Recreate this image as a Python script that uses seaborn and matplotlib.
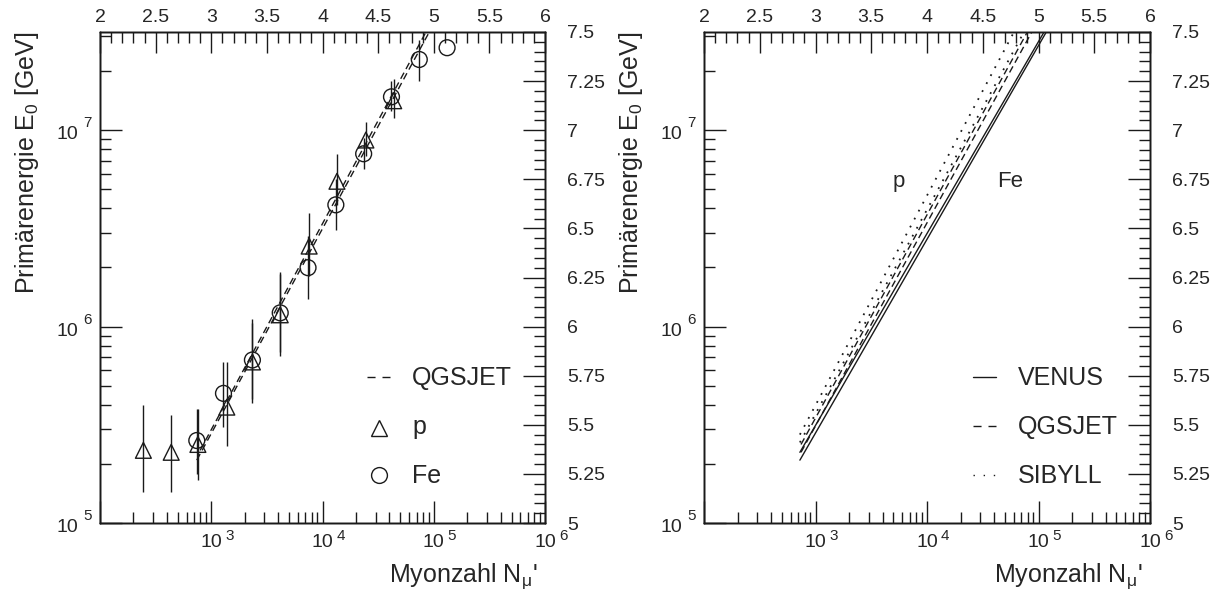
import numpy as np
import matplotlib
matplotlib.use("Agg")
import matplotlib.pyplot as plt
import matplotlib.ticker as mticker
import seaborn as sns

# ---------------- data (log10 values) ----------------
# left panel: reconstructed energy vs muon number, proton (triangles)
p_logN = [2.39, 2.64, 2.88, 3.14, 3.37, 3.62, 3.88, 4.13, 4.39, 4.64]
p_logE = [5.37, 5.36, 5.40, 5.59, 5.82, 6.06, 6.41, 6.74, 6.95, 7.15]
p_lo = [5.16, 5.16, 5.22, 5.39, 5.61, 5.85, 6.26, 6.62, 6.87, 7.06]
p_hi = [5.60, 5.55, 5.58, 5.82, 6.04, 6.28, 6.58, 6.88, 7.04, 7.26]
# iron (circles)
fe_logN = [2.87, 3.11, 3.37, 3.62, 3.87, 4.12, 4.37, 4.62, 4.87, 5.12]
fe_logE = [5.42, 5.66, 5.83, 6.07, 6.30, 6.62, 6.88, 7.17, 7.36, 7.42]
fe_lo = [5.25, 5.49, 5.63, 5.87, 6.14, 6.49, 6.80, 7.10, 7.25, 7.42]
fe_hi = [5.58, 5.82, 6.02, 6.27, 6.46, 6.75, 6.96, 7.25, 7.46, 7.42]
# left panel QGSJET fits (p, Fe)
qgsL_p_logN, qgsL_p_logE = [2.87, 4.96], [5.32, 7.50]
qgsL_fe_logN, qgsL_fe_logE = [2.90, 4.93], [5.37, 7.50]

# right panel: model relations (p and Fe for each)
venus_p_logN, venus_p_logE = [2.86, 5.05], [5.36, 7.50]
venus_fe_logN, venus_fe_logE = [2.86, 5.07], [5.32, 7.50]
qgs_p_logN, qgs_p_logE = [2.87, 4.90], [5.40, 7.50]
qgs_fe_logN, qgs_fe_logE = [2.87, 4.94], [5.36, 7.50]
sib_p_logN, sib_p_logE = [2.86, 4.78], [5.45, 7.50]
sib_fe_logN, sib_fe_logE = [2.86, 4.87], [5.41, 7.50]

left_legend = ["QGSJET", "p", "Fe"]
right_legend = ["VENUS", "QGSJET", "SIBYLL"]
decades_x = [3, 4, 5, 6]
decades_y = [5, 6, 7]
top_ticks = [2, 2.5, 3, 3.5, 4, 4.5, 5, 5.5, 6]
right_ticks = [5, 5.25, 5.5, 5.75, 6, 6.25, 6.5, 6.75, 7, 7.25, 7.5]

# ---------------- style ----------------
sns.set_theme(style="ticks")
plt.rcParams["font.family"] = ["Liberation Sans", "DejaVu Sans"]
plt.rcParams["mathtext.fontset"] = "custom"
plt.rcParams["mathtext.rm"] = "Liberation Sans"
plt.rcParams["mathtext.it"] = "Liberation Sans:italic"
plt.rcParams["mathtext.bf"] = "Liberation Sans:bold"
plt.rcParams["axes.grid"] = False

W, H = 1218, 598
fig = plt.figure(figsize=(W / 100, H / 100), dpi=100)
axL = fig.add_axes([100 / W, 75 / H, 445 / W, 491 / H])
axR = fig.add_axes([704 / W, 75 / H, 446 / W, 491 / H])

DASH = (0, (5, 3))
LDASH = (0, (5.8, 5))
DOT = (0, (1, 4))
LDOT = (0, (1, 6.3))


def p10(v):
    return np.power(10.0, np.asarray(v, dtype=float))


def style_axes(ax):
    ax.set_xscale("log")
    ax.set_yscale("log")
    ax.set_xlim(1e2, 1e6)
    ax.set_ylim(1e5, 10 ** 7.5)
    for axis in (ax.xaxis, ax.yaxis):
        axis.set_major_locator(mticker.LogLocator(base=10, numticks=10))
        axis.set_minor_locator(mticker.LogLocator(base=10, subs=np.arange(2, 10), numticks=20))
        axis.set_minor_formatter(mticker.NullFormatter())
        axis.set_major_formatter(mticker.NullFormatter())
    ax.tick_params(which="both", direction="in", top=False, right=False,
                   width=1, color="k", labelcolor="k")
    ax.tick_params(which="major", length=16)
    ax.tick_params(which="minor", length=8)
    for sp in ax.spines.values():
        sp.set_linewidth(1)
        sp.set_color("k")

    # decade labels "10" with raised exponent
    for e in decades_x:
        ax.annotate("10", xy=(10.0 ** e, 0), xycoords=("data", "axes fraction"),
                    xytext=(0, -24), textcoords="offset pixels", ha="center",
                    va="baseline", fontsize=14, annotation_clip=False)
        ax.annotate(str(e), xy=(10.0 ** e, 0), xycoords=("data", "axes fraction"),
                    xytext=(14, -17), textcoords="offset pixels", ha="left",
                    va="baseline", fontsize=11, annotation_clip=False)
    for e in decades_y:
        ax.annotate("10", xy=(0, 10.0 ** e), xycoords=("axes fraction", "data"),
                    xytext=(-22, -9), textcoords="offset pixels", ha="right",
                    va="baseline", fontsize=14, annotation_clip=False)
        ax.annotate(str(e), xy=(0, 10.0 ** e), xycoords=("axes fraction", "data"),
                    xytext=(-17, 3), textcoords="offset pixels", ha="left",
                    va="baseline", fontsize=11, annotation_clip=False)

    axT = ax.twiny()
    axT.set_xlim(2, 6)
    axT.xaxis.set_major_locator(mticker.FixedLocator(top_ticks))
    axT.xaxis.set_minor_locator(mticker.MultipleLocator(0.1))
    axT.xaxis.set_major_formatter(mticker.FormatStrFormatter("%g"))
    axT.tick_params(which="both", direction="in", bottom=False, top=True,
                    labelbottom=False, labeltop=True, width=1, color="k")
    axT.tick_params(which="major", length=15, labelsize=14, pad=4)
    axT.tick_params(which="minor", length=8)

    axRt = ax.twinx()
    axRt.set_ylim(5, 7.5)
    axRt.yaxis.set_major_locator(mticker.FixedLocator(right_ticks))
    axRt.yaxis.set_minor_locator(mticker.MultipleLocator(0.05))
    axRt.yaxis.set_major_formatter(mticker.FormatStrFormatter("%g"))
    axRt.tick_params(which="both", direction="in", left=False, right=True,
                     labelleft=False, labelright=True, width=1, color="k")
    axRt.tick_params(which="major", length=16, labelsize=14, pad=16)
    axRt.tick_params(which="minor", length=8)
    for a in (axT, axRt):
        for sp in a.spines.values():
            sp.set_linewidth(1)
            sp.set_color("k")
    ax.set_zorder(3)
    ax.patch.set_visible(False)

    ax.text(-0.1955, 1.0, "Primärenergie E$_\\mathregular{0}$ [GeV]", rotation=90,
            ha="left", va="top", fontsize=18, transform=ax.transAxes)
    ax.text(0.982, -0.120, "Myonzahl N$_\\mathregular{\\mu}$'", ha="right",
            va="baseline", fontsize=18, transform=ax.transAxes)


style_axes(axL)
style_axes(axR)

# ---------------- left panel ----------------
for xs, ys in ((qgsL_p_logN, qgsL_p_logE), (qgsL_fe_logN, qgsL_fe_logE)):
    sns.lineplot(x=p10(xs), y=p10(ys), ax=axL, color="k", lw=1, linestyle=DASH,
                 sort=False, estimator=None)

axL.vlines(p10(p_logN), p10(p_lo), p10(p_hi), color="k", lw=1, zorder=3)
axL.vlines(p10(fe_logN), p10(fe_lo), p10(fe_hi), color="k", lw=1, zorder=3)
sns.scatterplot(x=p10(p_logN), y=p10(p_logE), ax=axL, marker="^", s=130,
                facecolor="none", edgecolor="k", linewidth=1, zorder=4)
sns.scatterplot(x=p10(fe_logN), y=p10(fe_logE), ax=axL, marker="o", s=130,
                facecolor="none", edgecolor="k", linewidth=1, zorder=4, clip_on=False)


def fx(px, left):
    return (px - left) / (446 if left > 600 else 445)


def fy(py):
    return (523 - py) / 491


# left legend
lx0, lx1, ltx = fx(367, 100), fx(390, 100), fx(412, 100)
axL.plot([lx0, lx1], [fy(377), fy(377)], color="k", lw=1, linestyle=LDASH,
         transform=axL.transAxes, clip_on=False)
axL.plot([fx(378.5, 100)], [fy(428)], marker="^", ms=11.4, mfc="none", mec="k",
         mew=1, transform=axL.transAxes, clip_on=False)
axL.plot([fx(378.5, 100)], [fy(475)], marker="o", ms=11.4, mfc="none", mec="k",
         mew=1, transform=axL.transAxes, clip_on=False)
for lab, base in zip(left_legend, (385, 434, 483)):
    axL.text(ltx, fy(base), lab, ha="left", va="baseline", fontsize=18,
             transform=axL.transAxes)

# ---------------- right panel ----------------
for xs, ys in ((venus_p_logN, venus_p_logE), (venus_fe_logN, venus_fe_logE)):
    sns.lineplot(x=p10(xs), y=p10(ys), ax=axR, color="k", lw=1, linestyle="-",
                 sort=False, estimator=None)
for xs, ys in ((qgs_p_logN, qgs_p_logE), (qgs_fe_logN, qgs_fe_logE)):
    sns.lineplot(x=p10(xs), y=p10(ys), ax=axR, color="k", lw=1, linestyle=DASH,
                 sort=False, estimator=None)
for xs, ys in ((sib_p_logN, sib_p_logE), (sib_fe_logN, sib_fe_logE)):
    sns.lineplot(x=p10(xs), y=p10(ys), ax=axR, color="k", lw=1.3, linestyle=DOT,
                 sort=False, estimator=None)

axR.text(p10(3.75), p10(6.74), "p", ha="center", va="center", fontsize=16)
axR.text(p10(4.745), p10(6.74), "Fe", ha="center", va="center", fontsize=16)

rx0, rx1, rtx = fx(973, 704), fx(996, 704), fx(1018, 704)
for ls, yc in (("-", 377), (LDASH, 426), (LDOT, 475)):
    axR.plot([rx0, rx1], [fy(yc), fy(yc)], color="k", lw=1, linestyle=ls,
             transform=axR.transAxes, clip_on=False)
for lab, base in zip(right_legend, (385, 434, 483)):
    axR.text(rtx, fy(base), lab, ha="left", va="baseline", fontsize=18,
             transform=axR.transAxes)

for ax in (axL, axR):
    if ax.get_legend() is not None:
        ax.get_legend().remove()
    ax.set_xlabel("")
    ax.set_ylabel("")

fig.savefig("out.png", dpi=100)
